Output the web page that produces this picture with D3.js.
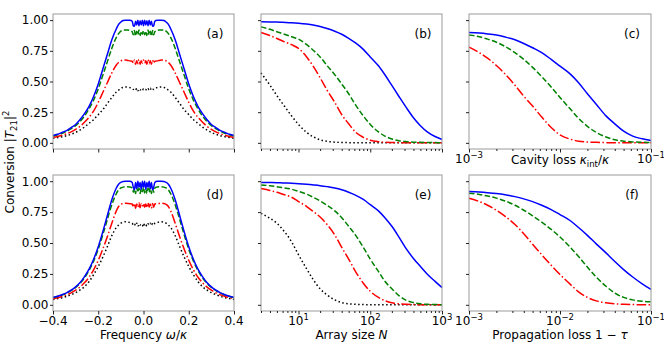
<!DOCTYPE html>
<html>
<head>
<meta charset="utf-8">
<script src="https://cdn.jsdelivr.net/npm/d3@7"></script>
<style>
  body { margin: 0; background: #fff; }
  text { font-family: "DejaVu Sans", sans-serif; }
</style>
</head>
<body>
<div class="chart"></div>
<script>
// ---- data ----
const freq = [-0.40,-0.38,-0.36,-0.34,-0.32,-0.30,-0.28,-0.26,-0.24,-0.22,-0.20,-0.18,-0.16,-0.14,-0.12,-0.11,-0.10,-0.09,-0.08,-0.07,-0.06,-0.05,
  -0.045,-0.04,-0.035,-0.03,-0.025,-0.02,-0.015,-0.01,-0.005,0,0.005,0.01,0.015,0.02,0.025,0.03,0.035,0.04,0.045,
  0.05,0.06,0.07,0.08,0.09,0.10,0.11,0.12,0.14,0.16,0.18,0.20,0.22,0.24,0.26,0.28,0.30,0.32,0.34,0.36,0.38,0.40];

const aBlue = [0.06,0.07,0.085,0.10,0.125,0.15,0.19,0.24,0.30,0.38,0.48,0.60,0.72,0.84,0.93,0.965,0.985,0.997,1.0,1.0,1.0,0.99,
  0.955,0.95,0.99,0.96,1.0,0.955,0.995,0.96,1.0,0.955,1.0,0.96,0.995,0.955,1.0,0.96,0.99,0.95,0.955,
  0.99,1.0,1.0,1.0,0.997,0.985,0.965,0.93,0.84,0.72,0.60,0.48,0.38,0.30,0.24,0.19,0.15,0.125,0.10,0.085,0.07,0.06];
const aGreen = [0.055,0.065,0.078,0.093,0.115,0.14,0.175,0.22,0.28,0.35,0.44,0.55,0.66,0.77,0.86,0.89,0.91,0.92,0.92,0.92,0.915,0.905,
  0.88,0.915,0.87,0.91,0.88,0.92,0.875,0.91,0.885,0.915,0.88,0.91,0.875,0.92,0.88,0.91,0.87,0.915,0.88,
  0.905,0.915,0.92,0.92,0.92,0.91,0.89,0.86,0.77,0.66,0.55,0.44,0.35,0.28,0.22,0.175,0.14,0.115,0.093,0.078,0.065,0.055];
const aRed = [0.045,0.052,0.062,0.074,0.09,0.11,0.135,0.17,0.21,0.26,0.33,0.41,0.49,0.57,0.635,0.655,0.668,0.675,0.675,0.672,0.668,0.665,
  0.65,0.675,0.64,0.67,0.645,0.68,0.64,0.67,0.65,0.675,0.65,0.67,0.64,0.68,0.645,0.67,0.64,0.675,0.65,
  0.665,0.668,0.672,0.675,0.675,0.668,0.655,0.635,0.57,0.49,0.41,0.33,0.26,0.21,0.17,0.135,0.11,0.09,0.074,0.062,0.052,0.045];
const aBlack = [0.037,0.043,0.05,0.058,0.07,0.085,0.105,0.13,0.16,0.19,0.23,0.27,0.32,0.37,0.415,0.43,0.445,0.452,0.456,0.455,0.45,0.445,
  0.435,0.44,0.43,0.445,0.425,0.44,0.43,0.435,0.425,0.44,0.43,0.435,0.425,0.44,0.43,0.445,0.43,0.44,0.435,
  0.445,0.45,0.455,0.456,0.452,0.445,0.43,0.415,0.37,0.32,0.27,0.23,0.19,0.16,0.13,0.105,0.085,0.07,0.058,0.05,0.043,0.037];

const dBlue = [0.06,0.07,0.082,0.097,0.118,0.145,0.18,0.23,0.29,0.37,0.47,0.59,0.72,0.85,0.945,0.975,0.99,0.998,1.0,1.0,1.0,0.99,
  0.95,0.93,0.99,0.94,1.0,0.95,0.99,0.935,1.0,0.95,1.0,0.935,0.99,0.95,1.0,0.94,0.99,0.93,0.95,
  0.99,1.0,1.0,1.0,0.998,0.99,0.975,0.945,0.85,0.72,0.59,0.47,0.37,0.29,0.23,0.18,0.145,0.118,0.097,0.082,0.07,0.06];
const dGreen = [0.058,0.068,0.08,0.095,0.115,0.14,0.175,0.22,0.28,0.355,0.45,0.565,0.69,0.81,0.90,0.93,0.945,0.952,0.955,0.955,0.953,0.945,
  0.91,0.94,0.90,0.95,0.91,0.945,0.90,0.94,0.915,0.95,0.905,0.94,0.90,0.945,0.91,0.95,0.90,0.94,0.91,
  0.945,0.953,0.955,0.955,0.952,0.945,0.93,0.90,0.81,0.69,0.565,0.45,0.355,0.28,0.22,0.175,0.14,0.115,0.095,0.08,0.068,0.058];
const dRed = [0.05,0.058,0.068,0.08,0.097,0.118,0.145,0.18,0.225,0.285,0.36,0.45,0.55,0.66,0.76,0.795,0.812,0.82,0.822,0.82,0.818,0.815,
  0.79,0.82,0.78,0.815,0.79,0.825,0.785,0.815,0.795,0.82,0.79,0.815,0.785,0.825,0.79,0.815,0.78,0.82,0.79,
  0.815,0.818,0.82,0.822,0.82,0.812,0.795,0.76,0.66,0.55,0.45,0.36,0.285,0.225,0.18,0.145,0.118,0.097,0.08,0.068,0.058,0.05];
const dBlack = [0.043,0.05,0.058,0.068,0.082,0.098,0.12,0.148,0.19,0.245,0.31,0.385,0.47,0.56,0.625,0.645,0.66,0.668,0.672,0.67,0.665,0.66,
  0.645,0.655,0.64,0.66,0.635,0.655,0.645,0.65,0.635,0.66,0.64,0.65,0.635,0.655,0.645,0.66,0.64,0.655,0.645,
  0.66,0.665,0.67,0.672,0.668,0.66,0.645,0.625,0.56,0.47,0.385,0.31,0.245,0.19,0.148,0.12,0.098,0.082,0.068,0.058,0.05,0.043];

const sizeN = [3,4,5,6,8,10,13,16,20,25,32,40,50,63,80,100,130,160,200,250,320,400,500,630,800,1000];
const bBlue = [0.986,0.985,0.984,0.982,0.979,0.975,0.968,0.96,0.948,0.932,0.91,0.885,0.852,0.812,0.762,0.70,0.628,0.555,0.468,0.38,0.285,0.205,0.14,0.088,0.052,0.028];
const bGreen = [0.945,0.925,0.905,0.89,0.865,0.845,0.80,0.755,0.70,0.63,0.555,0.48,0.40,0.305,0.22,0.15,0.09,0.055,0.032,0.018,0.01,0.006,0.004,0.003,0.002,0.001];
const bRed = [0.90,0.875,0.85,0.83,0.80,0.77,0.70,0.625,0.53,0.43,0.33,0.23,0.155,0.085,0.045,0.022,0.01,0.005,0.003,0.002,0.001,0.001,0.001,0.001,0.001,0.001];
const bBlack = [0.57,0.47,0.385,0.32,0.22,0.15,0.085,0.05,0.025,0.012,0.006,0.003,0.002,0.001,0.001,0.001,0.001,0.001,0.001,0.001,0.001,0.001,0.001,0.001,0.001,0.001];
const eBlue = [0.99,0.989,0.988,0.986,0.983,0.98,0.975,0.97,0.964,0.956,0.945,0.93,0.91,0.885,0.852,0.81,0.76,0.705,0.635,0.55,0.45,0.375,0.31,0.245,0.19,0.14];
const eGreen = [0.97,0.963,0.955,0.948,0.935,0.918,0.895,0.87,0.84,0.805,0.76,0.705,0.635,0.56,0.465,0.37,0.27,0.19,0.13,0.075,0.035,0.018,0.008,0.004,0.002,0.001];
const eRed = [0.94,0.925,0.91,0.895,0.87,0.835,0.795,0.755,0.71,0.65,0.565,0.465,0.37,0.265,0.175,0.11,0.06,0.033,0.016,0.008,0.004,0.002,0.001,0.001,0.001,0.001];
const eBlack = [0.74,0.70,0.66,0.61,0.51,0.405,0.29,0.205,0.13,0.08,0.04,0.018,0.008,0.004,0.002,0.001,0.001,0.001,0.001,0.001,0.001,0.001,0.001,0.001,0.001,0.001];

const loss = [1e-3,1.3e-3,1.6e-3,2e-3,2.5e-3,3.2e-3,4e-3,5e-3,6.3e-3,8e-3,1e-2,1.3e-2,1.6e-2,2e-2,2.5e-2,3.2e-2,4e-2,5e-2,6.3e-2,8e-2,1e-1];
const cBlue = [0.90,0.895,0.888,0.878,0.862,0.84,0.81,0.775,0.735,0.68,0.625,0.56,0.49,0.40,0.315,0.22,0.155,0.095,0.055,0.033,0.02];
const cGreen = [0.878,0.865,0.845,0.82,0.785,0.735,0.68,0.615,0.54,0.455,0.37,0.275,0.20,0.135,0.085,0.048,0.025,0.014,0.008,0.005,0.003];
const cRed = [0.78,0.735,0.69,0.63,0.56,0.47,0.38,0.30,0.21,0.125,0.065,0.03,0.014,0.007,0.004,0.002,0.001,0.001,0.001,0.001,0.001];
const fBlue = [0.916,0.912,0.907,0.90,0.89,0.875,0.857,0.835,0.805,0.77,0.73,0.68,0.625,0.562,0.493,0.42,0.35,0.285,0.225,0.17,0.125];
const fGreen = [0.903,0.893,0.88,0.863,0.84,0.805,0.765,0.72,0.668,0.61,0.548,0.465,0.39,0.305,0.225,0.15,0.095,0.06,0.04,0.029,0.024];
const fRed = [0.862,0.835,0.805,0.765,0.715,0.65,0.575,0.49,0.405,0.32,0.245,0.165,0.105,0.06,0.032,0.016,0.008,0.004,0.002,0.001,0.001];

const yTicks = [0, 0.25, 0.5, 0.75, 1.0];
const freqTicks = [-0.4, -0.2, 0, 0.2, 0.4];
const sizeTicks = [10, 100, 1000];
const lossTicks = [1e-3, 1e-2, 1e-1];

// ---- layout ----
const W = 664, H = 345;
const cols = [{x0: 53, x1: 234}, {x0: 261, x1: 442}, {x0: 469, x1: 651}];
const rows = [{y0: 14, y1: 149}, {y0: 175, y1: 311}];
const FONT = 12;

const lineStyles = [
  {color: '#0000ff', dash: null},
  {color: '#008000', dash: '5.5,2.4'},
  {color: '#ff0000', dash: '9.6,2.4,1.5,2.4'},
  {color: '#000000', dash: '1.5,2.5'}
];

const svg = d3.select('.chart').append('svg')
  .attr('width', W)
  .attr('height', H);

// text with italic / sub / superscript parts
function rich(sel, parts) {
  let shift = 0;
  parts.forEach(p => {
    const target = p.sub ? 3 : p.sup ? -5 : 0;
    const ts = sel.append('tspan').text(p.t).attr('dy', target - shift);
    if (p.i) ts.attr('font-style', 'italic');
    if (p.sub || p.sup) ts.attr('font-size', 8.5);
    shift = target;
  });
  return sel;
}

const expParts = v => [{t: '10'}, {t: String(Math.round(Math.log10(v))).replace('-', '\u2212'), sup: true}];

const panels = [
  {name: '(a)', col: 0, row: 0, kind: 'freq', xs: freq, series: [aBlue, aGreen, aRed, aBlack], yLabels: true},
  {name: '(b)', col: 1, row: 0, kind: 'size', xs: sizeN, series: [bBlue, bGreen, bRed, bBlack]},
  {name: '(c)', col: 2, row: 0, kind: 'loss', xs: loss, series: [cBlue, cGreen, cRed], xLabels: [1e-3, 1e-1],
    title: [{t: 'Cavity loss '}, {t: '\u03ba', i: true}, {t: 'int', sub: true}, {t: '/'}, {t: '\u03ba', i: true}], inline: true},
  {name: '(d)', col: 0, row: 1, kind: 'freq', xs: freq, series: [dBlue, dGreen, dRed, dBlack], yLabels: true, xLabels: freqTicks,
    title: [{t: 'Frequency '}, {t: '\u03c9', i: true}, {t: '/'}, {t: '\u03ba', i: true}]},
  {name: '(e)', col: 1, row: 1, kind: 'size', xs: sizeN, series: [eBlue, eGreen, eRed, eBlack], xLabels: sizeTicks,
    title: [{t: 'Array size '}, {t: 'N', i: true}]},
  {name: '(f)', col: 2, row: 1, kind: 'loss', xs: loss, series: [fBlue, fGreen, fRed], xLabels: lossTicks,
    title: [{t: 'Propagation loss 1 \u2212 '}, {t: '\u03c4', i: true}]}
];

function minorTicks(lo, hi) {
  const out = [];
  for (let e = Math.floor(Math.log10(lo)); e <= Math.ceil(Math.log10(hi)); e++) {
    for (let m = 2; m <= 9; m++) {
      const v = m * Math.pow(10, e);
      if (v >= lo - 1e-12 && v <= hi + 1e-12) out.push(v);
    }
  }
  return out;
}

panels.forEach(p => {
  const {x0, x1} = cols[p.col];
  const {y0, y1} = rows[p.row];

  let x, majors, minors = [];
  if (p.kind === 'freq') {
    x = d3.scaleLinear().domain([-0.4, 0.4]).range([x0, x1]);
    majors = freqTicks;
  } else if (p.kind === 'size') {
    x = d3.scaleLog().domain([3, 1000]).range([x0, x1]);
    majors = sizeTicks;
    minors = minorTicks(3, 1000);
  } else {
    x = d3.scaleLog().domain([1e-3, 1e-1]).range([x0, x1]);
    majors = lossTicks;
    minors = minorTicks(1e-3, 1e-1);
  }
  const y = d3.scaleLinear().domain([-0.05, 1.05]).range([y1, y0]);

  const g = svg.append('g').attr('class', 'panel');

  // curves, blue drawn last
  const line = d3.line()
    .curve(d3.curveMonotoneX)
    .x((d, i) => x(p.xs[i]))
    .y(d => y(d));

  p.series.map((s, i) => ({s, st: lineStyles[i]})).reverse().forEach(({s, st}) => {
    g.append('path')
      .attr('d', line(s))
      .style('fill', 'none')
      .style('stroke', st.color)
      .style('stroke-width', 1.5)
      .style('stroke-dasharray', st.dash);
  });

  // frame
  g.append('rect')
    .attr('x', x0).attr('y', y0)
    .attr('width', x1 - x0).attr('height', y1 - y0)
    .style('fill', 'none')
    .style('stroke', '#9a9a9a')
    .style('stroke-width', 1);

  // x ticks
  g.append('g')
    .attr('transform', `translate(0, ${y1})`)
    .call(d3.axisBottom(x).tickValues(majors).tickSize(3.5).tickFormat(''))
    .call(a => a.select('.domain').remove())
    .attr('color', '#222');
  if (minors.length) {
    g.append('g')
      .attr('transform', `translate(0, ${y1})`)
      .call(d3.axisBottom(x).tickValues(minors).tickSize(2).tickFormat(''))
      .call(a => a.select('.domain').remove())
      .attr('color', '#222');
  }

  // y ticks
  const gy = g.append('g')
    .attr('transform', `translate(${x0}, 0)`)
    .call(d3.axisLeft(y).tickValues(yTicks).tickSize(3).tickPadding(1.5)
      .tickFormat(p.yLabels ? d3.format('.2f') : ''))
    .call(a => a.select('.domain').remove())
    .attr('color', '#222');
  gy.selectAll('text')
    .attr('font-size', FONT)
    .attr('font-family', '"DejaVu Sans", sans-serif')
    .attr('fill', '#000');

  // x tick labels
  if (p.xLabels) {
    p.xLabels.forEach(v => {
      const t = g.append('text')
        .attr('x', x(v))
        .attr('y', y1 + 13.5)
        .attr('text-anchor', 'middle')
        .attr('font-size', FONT);
      if (p.kind === 'freq') t.text(d3.format('.1f')(v));
      else rich(t, expParts(v));
    });
  }

  // axis title
  if (p.title) {
    const t = g.append('text')
      .attr('x', (x0 + x1) / 2)
      .attr('y', p.inline ? y1 + 14.5 : y1 + 27.5)
      .attr('text-anchor', 'middle')
      .attr('font-size', FONT);
    rich(t, p.title);
  }

  // panel tag
  g.append('text')
    .attr('x', x1 - 19)
    .attr('y', y0 + 24)
    .attr('text-anchor', 'middle')
    .attr('font-size', FONT)
    .text(p.name);
});

// shared y label
const yl = svg.append('text')
  .attr('transform', `translate(14, ${(rows[0].y1 + rows[1].y0) / 2}) rotate(-90)`)
  .attr('text-anchor', 'middle')
  .attr('font-size', FONT);
rich(yl, [{t: 'Conversion |'}, {t: 'T', i: true}, {t: '21', sub: true}, {t: '|'}, {t: '2', sup: true}]);
</script>
</body>
</html>
